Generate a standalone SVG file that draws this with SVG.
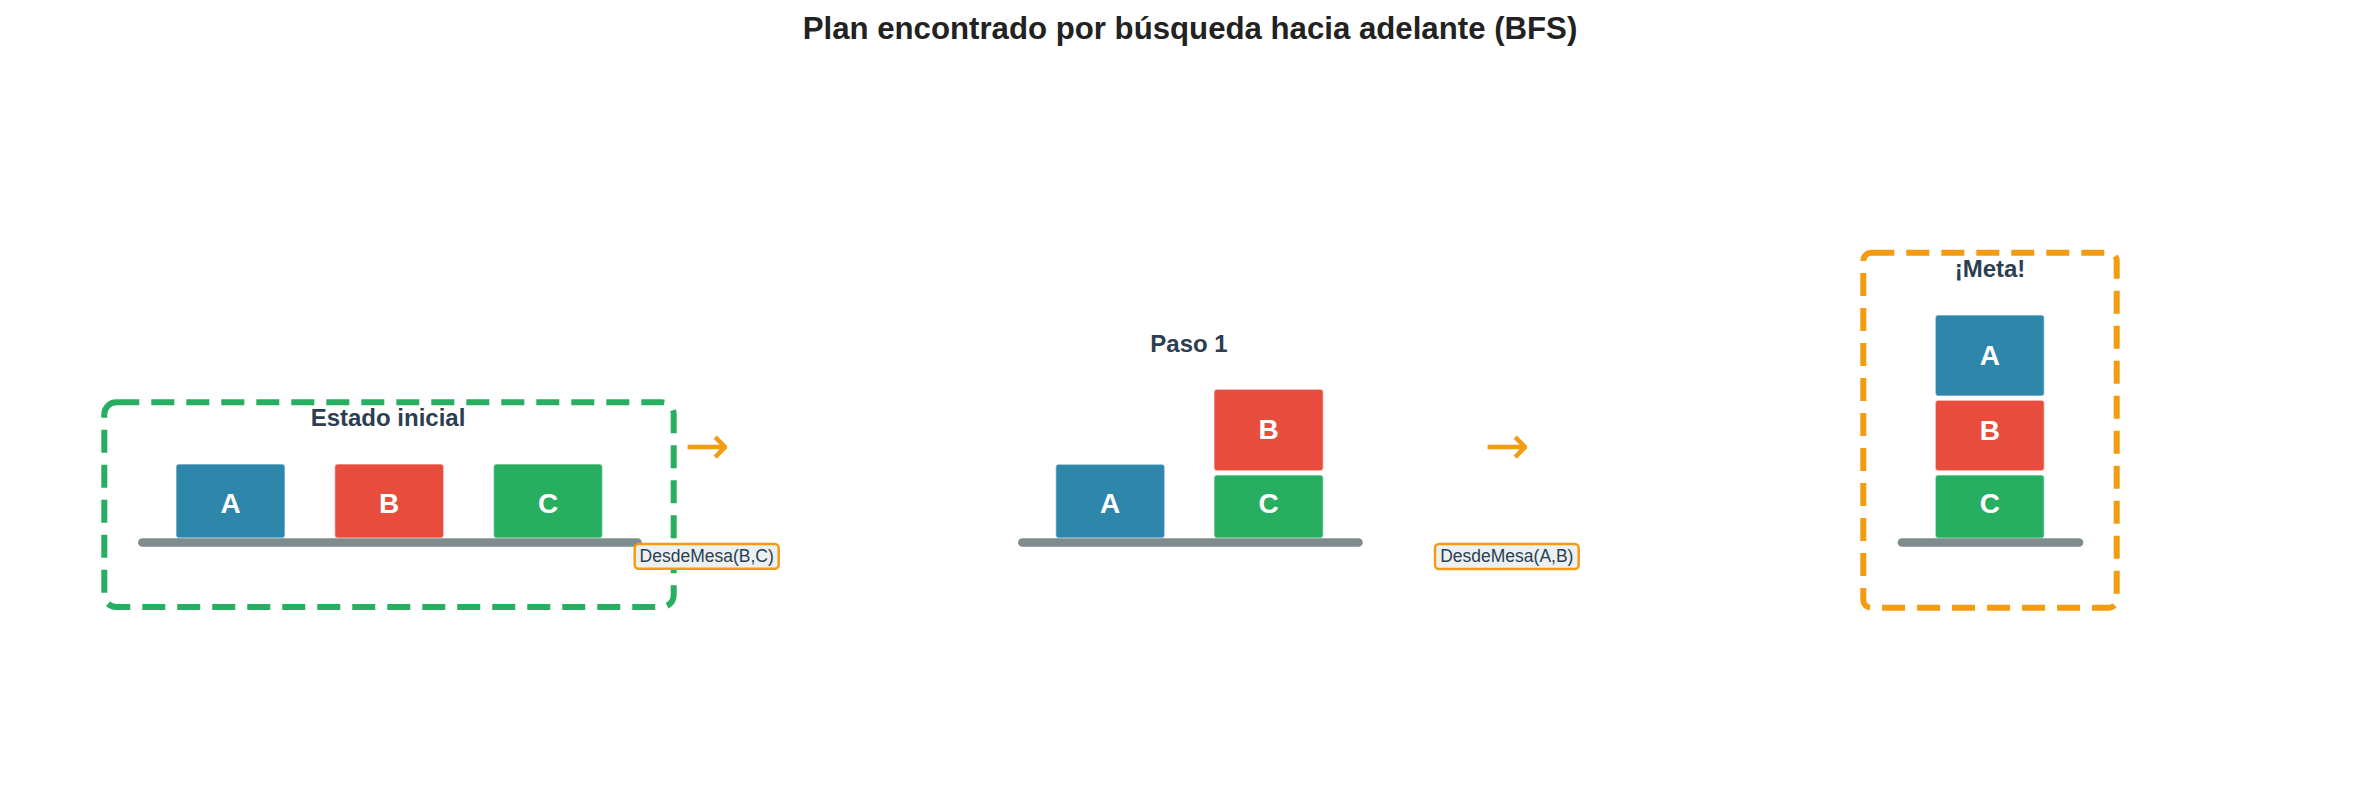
<svg xmlns="http://www.w3.org/2000/svg" width="2379" height="801" viewBox="0 0 2379 801">
<style>
.title{font-family:"Liberation Sans",Arial,sans-serif;font-weight:bold;font-size:31.2px;fill:#222222;text-anchor:middle}
.head{font-family:"Liberation Sans",Arial,sans-serif;font-weight:bold;font-size:24px;fill:#2c3e50;text-anchor:middle}
.blk{stroke:#ffffff;stroke-opacity:0.45;stroke-width:1.5}
.a{fill:#2e86ab}.b{fill:#e74c3c}.c{fill:#27ae60}
.bl{font-family:"Liberation Sans",Arial,sans-serif;font-weight:bold;font-size:28px;fill:#ffffff;text-anchor:middle}
.table{stroke:#7f8c8d;stroke-width:8.7;stroke-linecap:round}
.arrow{font-family:"DejaVu Sans",sans-serif;font-size:54px;fill:#f39c12;text-anchor:middle}
.lbox{fill:#ecf0f1;stroke:#f39c12;stroke-width:2.5}
.ltxt{font-family:"Liberation Sans",Arial,sans-serif;font-size:17.5px;fill:#2c3e50;text-anchor:middle}
.frame{fill:none;stroke-width:6;stroke-dasharray:23 12}
</style>
<rect width="2379" height="801" fill="#ffffff"/>
<text class="title" x="1190" y="39">Plan encontrado por búsqueda hacia adelante (BFS)</text>

<g id="estado-inicial">
<rect class="frame" x="104.3" y="402.3" width="569.4" height="204.7" rx="12" stroke="#27ae60"/>
<text class="head" x="388" y="426">Estado inicial</text>
<rect class="blk a" x="176" y="464" width="109" height="74" rx="3"/>
<text class="bl" x="230.5" y="513">A</text>
<rect class="blk b" x="334.7" y="464" width="109" height="74" rx="3"/>
<text class="bl" x="389.2" y="513">B</text>
<rect class="blk c" x="493.5" y="464" width="109" height="74" rx="3"/>
<text class="bl" x="548" y="513">C</text>
<line class="table" x1="142.4" y1="542.5" x2="637.4" y2="542.5"/>
</g>

<g id="paso-1">
<text class="head" x="1189" y="351.7">Paso 1</text>
<rect class="blk a" x="1055.7" y="464.3" width="109" height="73.7" rx="3"/>
<text class="bl" x="1110.2" y="513.3">A</text>
<rect class="blk b" x="1214" y="389.3" width="109.3" height="81.4" rx="3"/>
<text class="bl" x="1268.7" y="438.5">B</text>
<rect class="blk c" x="1214" y="475" width="109.3" height="63" rx="3"/>
<text class="bl" x="1268.7" y="512.7">C</text>
<line class="table" x1="1022.4" y1="542.5" x2="1358.4" y2="542.5"/>
</g>

<g id="meta">
<rect class="frame" x="1863.3" y="252.7" width="253.4" height="355" rx="8" stroke="#f39c12" stroke-dasharray="24 11"/>
<text class="head" x="1990" y="276.7">¡Meta!</text>
<rect class="blk a" x="1935.3" y="315" width="109" height="81" rx="3"/>
<text class="bl" x="1989.8" y="365">A</text>
<rect class="blk b" x="1935.3" y="400.3" width="109" height="70.4" rx="3"/>
<text class="bl" x="1989.8" y="440">B</text>
<rect class="blk c" x="1935.3" y="475" width="109" height="63.3" rx="3"/>
<text class="bl" x="1989.8" y="513">C</text>
<line class="table" x1="1902" y1="542.5" x2="2079" y2="542.5"/>
</g>

<g id="connectors">
<text class="arrow" x="707" y="464">→</text>
<rect class="lbox" x="634.7" y="544" width="144" height="24.7" rx="4"/>
<text class="ltxt" x="706.7" y="561.5">DesdeMesa(B,C)</text>
<text class="arrow" x="1507" y="464">→</text>
<rect class="lbox" x="1435" y="544" width="143.7" height="25" rx="4"/>
<text class="ltxt" x="1506.8" y="561.5">DesdeMesa(A,B)</text>
</g>
</svg>
